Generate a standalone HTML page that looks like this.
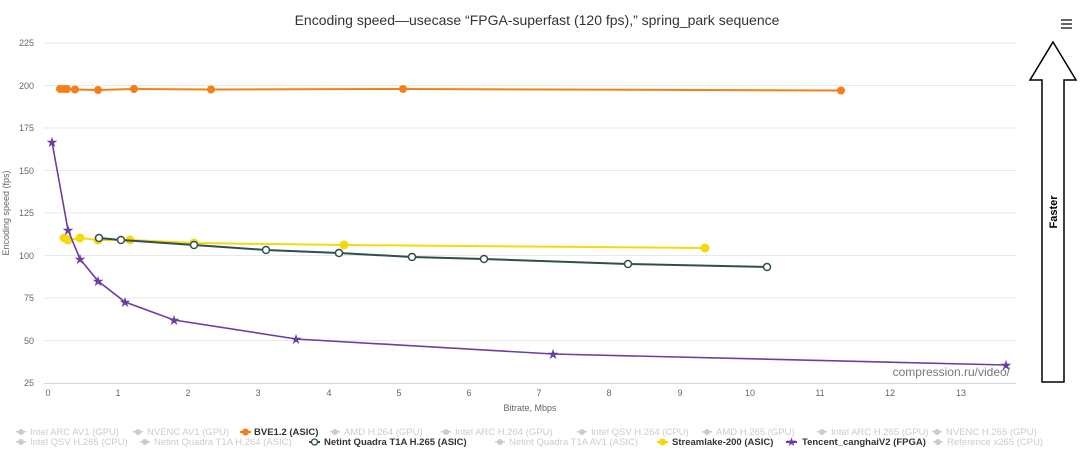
<!DOCTYPE html>
<html><head><meta charset="utf-8"><style>
html,body{margin:0;padding:0;background:#fff;}
svg{display:block;font-family:"Liberation Sans",sans-serif;}
</style></head><body>
<svg width="1080" height="455" viewBox="0 0 1080 455" xmlns="http://www.w3.org/2000/svg">
<rect width="1080" height="455" fill="#fff"/>
<text x="537" y="25" text-anchor="middle" font-size="14" fill="#333">Encoding speed—usecase “FPGA-superfast (120 fps),” spring_park sequence</text>
<g stroke="#e8e8e8" stroke-width="1">
<line x1="44" y1="43" x2="1016" y2="43"/><line x1="44" y1="85.5" x2="1016" y2="85.5"/>
<line x1="44" y1="128" x2="1016" y2="128"/><line x1="44" y1="170.5" x2="1016" y2="170.5"/>
<line x1="44" y1="213" x2="1016" y2="213"/><line x1="44" y1="255.5" x2="1016" y2="255.5"/>
<line x1="44" y1="298" x2="1016" y2="298"/><line x1="44" y1="340.5" x2="1016" y2="340.5"/>
</g>
<line x1="44" y1="383.5" x2="1016" y2="383.5" stroke="#ccd6eb"/>
<g font-size="9" fill="#666" text-anchor="end">
<text x="34" y="46">225</text><text x="34" y="89">200</text><text x="34" y="131">175</text><text x="34" y="174">150</text>
<text x="34" y="216">125</text><text x="34" y="259">100</text><text x="34" y="301">75</text><text x="34" y="344">50</text><text x="34" y="386">25</text>
</g>
<g font-size="9" fill="#666" text-anchor="middle">
<text x="48" y="396">0</text><text x="118" y="396">1</text><text x="188" y="396">2</text><text x="258" y="396">3</text>
<text x="329" y="396">4</text><text x="399" y="396">5</text><text x="469" y="396">6</text><text x="539" y="396">7</text>
<text x="609" y="396">8</text><text x="680" y="396">9</text><text x="750" y="396">10</text><text x="820" y="396">11</text>
<text x="890" y="396">12</text><text x="961" y="396">13</text>
</g>
<text x="530" y="411" text-anchor="middle" font-size="9" fill="#666">Bitrate, Mbps</text>
<text transform="translate(9,213) rotate(-90)" text-anchor="middle" font-size="9" fill="#666">Encoding speed (fps)</text>
<text x="1010" y="376" text-anchor="end" font-size="12" fill="#777">compression.ru/video/</text>
<polyline fill="none" stroke="#f57f17" stroke-width="2" points="60,89 64,89 67,89 75,89.5 98,90 134,89 211,89.5 403,89 841,90.5"/>
<g fill="#f57f17"><circle cx="60" cy="89" r="4"/><circle cx="64" cy="89" r="4"/><circle cx="67" cy="89" r="4"/><circle cx="75" cy="89.5" r="4"/><circle cx="98" cy="90" r="4"/><circle cx="134" cy="89" r="4"/><circle cx="211" cy="89.5" r="4"/><circle cx="403" cy="89" r="4"/><circle cx="841" cy="90.5" r="4"/></g>
<polyline fill="none" stroke="#f5d90a" stroke-width="2" points="64,238 68,240 80,238 98,240 130,240 194,243 344,245 705,248"/>
<g fill="#f5d90a"><circle cx="64" cy="238" r="4.5"/><circle cx="68" cy="240" r="4.5"/><circle cx="80" cy="238" r="4.5"/><circle cx="98" cy="240" r="4.5"/><circle cx="130" cy="240" r="4.5"/><circle cx="194" cy="243" r="4.5"/><circle cx="344" cy="245" r="4.5"/><circle cx="705" cy="248" r="4.5"/></g>
<polyline fill="none" stroke="#2f4f4f" stroke-width="2" points="99,238 121,240 194,245 266,250 339,253 412,257 484,259 628,264 767,267"/>
<g fill="#fff" stroke="#2f4f4f" stroke-width="1.5"><circle cx="99" cy="238" r="3.5"/><circle cx="121" cy="240" r="3.5"/><circle cx="194" cy="245" r="3.5"/><circle cx="266" cy="250" r="3.5"/><circle cx="339" cy="253" r="3.5"/><circle cx="412" cy="257" r="3.5"/><circle cx="484" cy="259" r="3.5"/><circle cx="628" cy="264" r="3.5"/><circle cx="767" cy="267" r="3.5"/></g>
<polyline fill="none" stroke="#6b3fa0" stroke-width="1.6" points="52,142 68,230 80,259 98,281 125,302 174,320 296,339 553,354 1006,365"/>
<g fill="#6b3fa0" font-size="14" text-anchor="middle">
<text x="52" y="147">★</text><text x="68" y="235">★</text><text x="80" y="264">★</text><text x="98" y="286">★</text><text x="125" y="307">★</text><text x="174" y="325">★</text><text x="296" y="344">★</text><text x="553" y="359">★</text><text x="1006" y="370">★</text>
</g>
<path d="M1053,42 L1076,80 L1064,80 L1064,382 L1042,382 L1042,80 L1030,80 Z" fill="#fff" stroke="#000" stroke-width="1.5"/>
<text transform="translate(1057,212) rotate(-90)" text-anchor="middle" font-size="11" font-weight="bold" fill="#000">Faster</text>
<g fill="#666"><rect x="1061" y="19" width="11" height="2"/><rect x="1061" y="23" width="11" height="2"/><rect x="1061" y="27" width="11" height="2"/></g>
<g font-size="9.5" fill="#ccc">
<text x="30" y="435">Intel ARC AV1 (GPU)</text>
<text x="147" y="435">NVENC AV1 (GPU)</text>
<text x="254" y="435" fill="#333" font-weight="bold">BVE1.2 (ASIC)</text>
<text x="344" y="435">AMD H.264 (GPU)</text>
<text x="455" y="435">Intel ARC H.264 (GPU)</text>
<text x="591" y="435">Intel QSV H.264 (CPU)</text>
<text x="716" y="435">AMD H.265 (GPU)</text>
<text x="831" y="435">Intel ARC H.265 (GPU)</text>
<text x="946" y="435">NVENC H.265 (GPU)</text>
<text x="30" y="445">Intel QSV H.265 (CPU)</text>
<text x="154" y="445">Netint Quadra T1A H.264 (ASIC)</text>
<text x="324" y="445" fill="#333" font-weight="bold">Netint Quadra T1A H.265 (ASIC)</text>
<text x="509" y="445">Netint Quadra T1A AV1 (ASIC)</text>
<text x="672" y="445" fill="#333" font-weight="bold">Streamlake-200 (ASIC)</text>
<text x="802" y="445" fill="#333" font-weight="bold">Tencent_canghaiV2 (FPGA)</text>
<text x="947" y="445">Reference x265 (CPU)</text>
</g>
<g fill="#ccc">
<rect x="16" y="431" width="10" height="1.5"/><circle cx="21" cy="432" r="3"/>
<rect x="133" y="431" width="10" height="1.5"/><circle cx="138" cy="432" r="3"/>
<rect x="330" y="431" width="10" height="1.5"/><circle cx="335" cy="432" r="3"/>
<rect x="441" y="431" width="10" height="1.5"/><circle cx="446" cy="432" r="3"/>
<rect x="577" y="431" width="10" height="1.5"/><circle cx="582" cy="432" r="3"/>
<rect x="702" y="431" width="10" height="1.5"/><circle cx="707" cy="432" r="3"/>
<rect x="817" y="431" width="10" height="1.5"/><circle cx="822" cy="432" r="3"/>
<rect x="932" y="431" width="10" height="1.5"/><circle cx="937" cy="432" r="3"/>
<rect x="16" y="441" width="10" height="1.5"/><circle cx="21" cy="442" r="3"/>
<rect x="140" y="441" width="10" height="1.5"/><circle cx="145" cy="442" r="3"/>
<rect x="495" y="441" width="10" height="1.5"/><circle cx="500" cy="442" r="3"/>
<rect x="933" y="441" width="10" height="1.5"/><circle cx="938" cy="442" r="3"/>
</g>
<rect x="240" y="431" width="11" height="2" fill="#f57f17"/><circle cx="245.5" cy="432" r="3.5" fill="#f57f17"/>
<rect x="309" y="441" width="11" height="2" fill="#2f4f4f"/><circle cx="314.5" cy="442" r="3" fill="#fff" stroke="#2f4f4f" stroke-width="1.3"/>
<rect x="657" y="441" width="11" height="2" fill="#f5d90a"/><circle cx="662.5" cy="442" r="3.5" fill="#f5d90a"/>
<rect x="786" y="441" width="11" height="2" fill="#6b3fa0"/><text x="791.5" y="446" text-anchor="middle" font-size="12" fill="#6b3fa0">★</text>
</svg>
</body></html>
